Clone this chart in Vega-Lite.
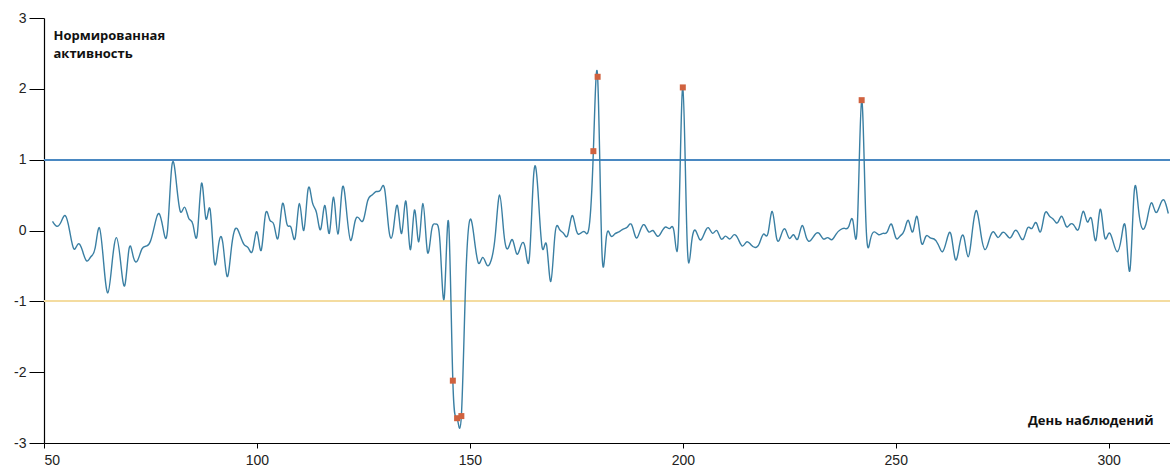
{
  "$schema": "https://vega.github.io/schema/vega-lite/v6.json",
  "width": 1126,
  "height": 425,
  "autosize": {"type": "none"},
  "padding": {"left": 44, "top": 18, "right": 0, "bottom": 25},
  "background": "white",
  "config": {
    "view": {"stroke": null},
    "axis": {
      "grid": false,
      "domainColor": "#000000",
      "domainWidth": 1.2,
      "tickColor": "#000000",
      "labelFont": "Liberation Sans",
      "labelFontSize": 14,
      "labelColor": "#222222",
      "labelExpr": "replace(datum.label, '−', '-')",
      "titleFont": "Open Sans",
      "titleFontSize": 13,
      "titleFontWeight": "bold",
      "titleColor": "#111111"
    }
  },
  "data": {
    "values": [
      {"day": 52, "value": 0.13}, {"day": 53, "value": 0.06}, {"day": 54, "value": 0.12}, {"day": 55, "value": 0.21},
      {"day": 56, "value": 0.0}, {"day": 57, "value": -0.26}, {"day": 58, "value": -0.19}, {"day": 59, "value": -0.28},
      {"day": 60, "value": -0.43}, {"day": 61, "value": -0.37}, {"day": 62, "value": -0.25}, {"day": 63, "value": 0.04},
      {"day": 64, "value": -0.45}, {"day": 65, "value": -0.88}, {"day": 66, "value": -0.45}, {"day": 67, "value": -0.1},
      {"day": 68, "value": -0.45}, {"day": 69, "value": -0.77}, {"day": 70, "value": -0.25}, {"day": 71, "value": -0.38},
      {"day": 72, "value": -0.42}, {"day": 73, "value": -0.26}, {"day": 74, "value": -0.22}, {"day": 75, "value": -0.15},
      {"day": 76, "value": 0.08}, {"day": 77, "value": 0.24}, {"day": 78, "value": 0.02}, {"day": 79, "value": 0.0},
      {"day": 80, "value": 0.9}, {"day": 81, "value": 0.72}, {"day": 82, "value": 0.27}, {"day": 83, "value": 0.33},
      {"day": 84, "value": 0.17}, {"day": 85, "value": 0.08}, {"day": 86, "value": -0.05}, {"day": 87, "value": 0.67},
      {"day": 88, "value": 0.17}, {"day": 89, "value": 0.3}, {"day": 90, "value": -0.45}, {"day": 91, "value": -0.2},
      {"day": 92, "value": -0.18}, {"day": 93, "value": -0.65}, {"day": 94, "value": -0.25}, {"day": 95, "value": 0.03},
      {"day": 96, "value": -0.06}, {"day": 97, "value": -0.2}, {"day": 98, "value": -0.25}, {"day": 99, "value": -0.28},
      {"day": 100, "value": -0.02}, {"day": 101, "value": -0.28}, {"day": 102, "value": 0.23}, {"day": 103, "value": 0.15},
      {"day": 104, "value": 0.08}, {"day": 105, "value": -0.1}, {"day": 106, "value": 0.38}, {"day": 107, "value": 0.1},
      {"day": 108, "value": 0.045}, {"day": 109, "value": -0.1}, {"day": 110, "value": 0.38}, {"day": 111, "value": 0.0},
      {"day": 112, "value": 0.58}, {"day": 113, "value": 0.4}, {"day": 114, "value": 0.25}, {"day": 115, "value": 0.02},
      {"day": 116, "value": 0.35}, {"day": 117, "value": -0.04}, {"day": 118, "value": 0.47}, {"day": 119, "value": -0.05},
      {"day": 120, "value": 0.58}, {"day": 121, "value": 0.3}, {"day": 122, "value": -0.14}, {"day": 123, "value": 0.12},
      {"day": 124, "value": 0.17}, {"day": 125, "value": 0.15}, {"day": 126, "value": 0.42}, {"day": 127, "value": 0.5},
      {"day": 128, "value": 0.55}, {"day": 129, "value": 0.57}, {"day": 130, "value": 0.58}, {"day": 131, "value": 0.0},
      {"day": 132, "value": 0.0}, {"day": 133, "value": 0.35}, {"day": 134, "value": -0.04}, {"day": 135, "value": 0.41},
      {"day": 136, "value": -0.27}, {"day": 137, "value": 0.29}, {"day": 138, "value": -0.16}, {"day": 139, "value": 0.38},
      {"day": 140, "value": -0.29}, {"day": 141, "value": 0.0}, {"day": 142, "value": 0.09}, {"day": 143, "value": -0.18},
      {"day": 144, "value": -0.94}, {"day": 145, "value": 0.12}, {"day": 146, "value": -2.12, "anomaly": true},
      {"day": 147, "value": -2.65, "anomaly": true}, {"day": 148, "value": -2.62, "anomaly": true},
      {"day": 149, "value": -0.75}, {"day": 150, "value": 0.15}, {"day": 151, "value": -0.1}, {"day": 152, "value": -0.46},
      {"day": 153, "value": -0.38}, {"day": 154, "value": -0.49}, {"day": 155, "value": -0.42}, {"day": 156, "value": -0.05},
      {"day": 157, "value": 0.5}, {"day": 158, "value": -0.05}, {"day": 159, "value": -0.25}, {"day": 160, "value": -0.13},
      {"day": 161, "value": -0.33}, {"day": 162, "value": -0.21}, {"day": 163, "value": -0.25}, {"day": 164, "value": -0.37},
      {"day": 165, "value": 0.8}, {"day": 166, "value": 0.55}, {"day": 167, "value": -0.25}, {"day": 168, "value": -0.2},
      {"day": 169, "value": -0.72}, {"day": 170, "value": -0.05}, {"day": 171, "value": 0.02}, {"day": 172, "value": -0.04},
      {"day": 173, "value": -0.06}, {"day": 174, "value": 0.21}, {"day": 175, "value": 0.0}, {"day": 176, "value": -0.04},
      {"day": 177, "value": -0.02}, {"day": 178, "value": 0.05}, {"day": 179, "value": 1.12, "anomaly": true},
      {"day": 180, "value": 2.17, "anomaly": true}, {"day": 181, "value": -0.28}, {"day": 182, "value": -0.12},
      {"day": 183, "value": -0.07}, {"day": 184, "value": -0.05}, {"day": 185, "value": -0.02}, {"day": 186, "value": 0.02},
      {"day": 187, "value": 0.05}, {"day": 188, "value": 0.08}, {"day": 189, "value": -0.1}, {"day": 190, "value": 0.0},
      {"day": 191, "value": 0.08}, {"day": 192, "value": -0.02}, {"day": 193, "value": 0.0}, {"day": 194, "value": -0.08},
      {"day": 195, "value": -0.02}, {"day": 196, "value": 0.05}, {"day": 197, "value": 0.03}, {"day": 198, "value": -0.04},
      {"day": 199, "value": 0.0}, {"day": 200, "value": 2.02, "anomaly": true}, {"day": 201, "value": -0.12},
      {"day": 202, "value": -0.2}, {"day": 203, "value": 0.0}, {"day": 204, "value": -0.13}, {"day": 205, "value": -0.05},
      {"day": 206, "value": 0.04}, {"day": 207, "value": -0.04}, {"day": 208, "value": 0.0}, {"day": 209, "value": -0.12},
      {"day": 210, "value": -0.08}, {"day": 211, "value": -0.12}, {"day": 212, "value": -0.06}, {"day": 213, "value": -0.12},
      {"day": 214, "value": -0.22}, {"day": 215, "value": -0.16}, {"day": 216, "value": -0.2}, {"day": 217, "value": -0.24},
      {"day": 218, "value": -0.18}, {"day": 219, "value": -0.05}, {"day": 220, "value": -0.04}, {"day": 221, "value": 0.27},
      {"day": 222, "value": -0.1}, {"day": 223, "value": -0.08}, {"day": 224, "value": 0.02}, {"day": 225, "value": -0.11},
      {"day": 226, "value": -0.06}, {"day": 227, "value": -0.12}, {"day": 228, "value": 0.07}, {"day": 229, "value": -0.1},
      {"day": 230, "value": -0.14}, {"day": 231, "value": -0.06}, {"day": 232, "value": -0.04}, {"day": 233, "value": -0.12},
      {"day": 234, "value": -0.1}, {"day": 235, "value": -0.13}, {"day": 236, "value": -0.05}, {"day": 237, "value": 0.01},
      {"day": 238, "value": 0.03}, {"day": 239, "value": 0.06}, {"day": 240, "value": 0.12}, {"day": 241, "value": 0.1},
      {"day": 242, "value": 1.84, "anomaly": true}, {"day": 243, "value": 0.12}, {"day": 244, "value": -0.14},
      {"day": 245, "value": -0.02}, {"day": 246, "value": -0.06}, {"day": 247, "value": -0.04}, {"day": 248, "value": -0.02},
      {"day": 249, "value": 0.09}, {"day": 250, "value": -0.1}, {"day": 251, "value": -0.08}, {"day": 252, "value": 0.0},
      {"day": 253, "value": 0.14}, {"day": 254, "value": -0.02}, {"day": 255, "value": 0.2}, {"day": 256, "value": -0.17},
      {"day": 257, "value": -0.09}, {"day": 258, "value": -0.1}, {"day": 259, "value": -0.12}, {"day": 260, "value": -0.2},
      {"day": 261, "value": -0.3}, {"day": 262, "value": -0.13}, {"day": 263, "value": -0.06}, {"day": 264, "value": -0.41},
      {"day": 265, "value": -0.2}, {"day": 266, "value": -0.09}, {"day": 267, "value": -0.37}, {"day": 268, "value": 0.0},
      {"day": 269, "value": 0.28}, {"day": 270, "value": -0.05}, {"day": 271, "value": -0.27}, {"day": 272, "value": -0.12},
      {"day": 273, "value": -0.02}, {"day": 274, "value": -0.1}, {"day": 275, "value": -0.03}, {"day": 276, "value": -0.06},
      {"day": 277, "value": -0.1}, {"day": 278, "value": 0.0}, {"day": 279, "value": -0.06}, {"day": 280, "value": -0.12},
      {"day": 281, "value": 0.04}, {"day": 282, "value": 0.03}, {"day": 283, "value": 0.11}, {"day": 284, "value": -0.02},
      {"day": 285, "value": 0.24}, {"day": 286, "value": 0.21}, {"day": 287, "value": 0.16}, {"day": 288, "value": 0.11},
      {"day": 289, "value": 0.2}, {"day": 290, "value": 0.06}, {"day": 291, "value": 0.09}, {"day": 292, "value": 0.06},
      {"day": 293, "value": 0.03}, {"day": 294, "value": 0.27}, {"day": 295, "value": 0.12}, {"day": 296, "value": 0.16},
      {"day": 297, "value": -0.14}, {"day": 298, "value": 0.3}, {"day": 299, "value": -0.08}, {"day": 300, "value": -0.04},
      {"day": 301, "value": -0.15}, {"day": 302, "value": -0.3}, {"day": 303, "value": -0.1}, {"day": 304, "value": 0.02},
      {"day": 305, "value": -0.56}, {"day": 306, "value": 0.55}, {"day": 307, "value": 0.3}, {"day": 308, "value": 0.02},
      {"day": 309, "value": 0.15}, {"day": 310, "value": 0.39}, {"day": 311, "value": 0.26}, {"day": 312, "value": 0.35},
      {"day": 313, "value": 0.43}, {"day": 314, "value": 0.24}
    ]
  },
  "encoding": {
    "x": {
      "field": "day",
      "type": "quantitative",
      "scale": {"domain": [50, 314.4], "nice": false, "zero": false},
      "axis": {
        "values": [50, 100, 150, 200, 250, 300],
        "tickSize": 5,
        "labelPadding": 5,
        "title": "День наблюдений",
        "titleAnchor": null,
        "titleAlign": "right",
        "titleBaseline": "alphabetic",
        "titleX": 1109,
        "titleY": -19
      }
    },
    "y": {
      "field": "value",
      "type": "quantitative",
      "scale": {"domain": [-3, 3], "nice": false},
      "axis": {
        "values": [-3, -2, -1, 0, 1, 2, 3],
        "tickSize": 15,
        "labelPadding": 3,
        "title": ["Нормированная", "активность"],
        "titleAngle": 0,
        "titleAlign": "left",
        "titleBaseline": "alphabetic",
        "titleLineHeight": 18,
        "titleX": 9,
        "titleY": 21
      }
    }
  },
  "layer": [
    {
      "mark": {"type": "rule", "color": "#4a88c2", "strokeWidth": 1.5},
      "encoding": {"y": {"datum": 1}, "x": {"value": 0}, "x2": {"value": 1126}}
    },
    {
      "mark": {"type": "rule", "color": "#f4dca0", "strokeWidth": 1.5},
      "encoding": {"y": {"datum": -1}, "x": {"value": 0}, "x2": {"value": 1126}}
    },
    {
      "mark": {"type": "line", "interpolate": "natural", "color": "#3a7fa3", "strokeWidth": 1.4}
    },
    {
      "transform": [{"filter": "datum.anomaly === true"}],
      "mark": {"type": "square", "filled": true, "color": "#d0623f", "opacity": 1, "size": 36}
    }
  ]
}
